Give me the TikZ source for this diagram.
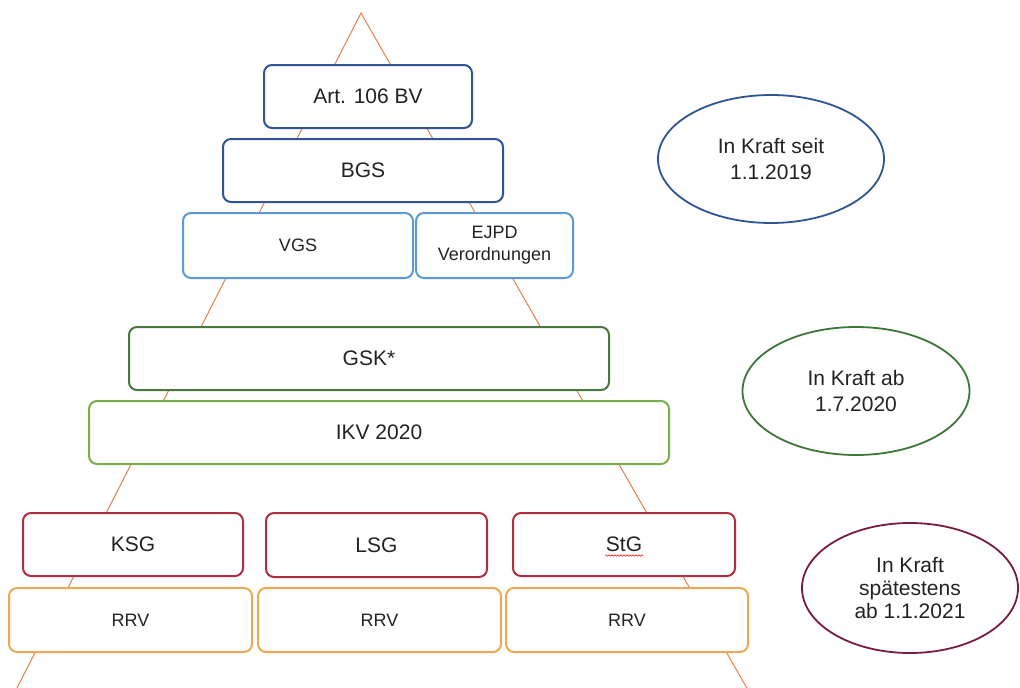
\documentclass[tikz,border=0pt]{standalone}
\usepackage{fontspec}
\setmainfont{Liberation Sans}
\usetikzlibrary{shapes.geometric,decorations.pathmorphing}

\definecolor{pyramid}{RGB}{232,125,75}
\definecolor{darkblue}{RGB}{47,85,151}
\definecolor{lightblue}{RGB}{91,155,213}
\definecolor{darkgreen}{RGB}{72,120,60}
\definecolor{lightgreen}{RGB}{120,175,75}
\definecolor{lawred}{RGB}{175,45,65}
\definecolor{rrvorange}{RGB}{235,170,80}
\definecolor{ovalgreen}{RGB}{60,120,55}
\definecolor{ovalred}{RGB}{120,30,55}
\definecolor{txt}{RGB}{35,35,35}

\begin{document}
\begin{tikzpicture}[x=1pt,y=-1pt]
\tikzstyle{every node}+=[inner sep=0pt,text=txt]
\tikzstyle{law}=[fill=white,rounded corners=8pt,line width=2pt,align=center,font=\fontsize{21}{25}\selectfont]
\tikzstyle{small}=[font=\fontsize{18}{22}\selectfont]
\tikzstyle{oval}=[ellipse,line width=1.8pt,align=center,font=\fontsize{21}{26}\selectfont]
\useasboundingbox (0,0) rectangle (1020,688);
\fill[white] (0,0) rectangle (1020,688);
% pyramid
\coordinate (apex) at (361,13);
\coordinate (baseL) at (16,690);
\coordinate (baseR) at (748,690);
\draw [pyramid,line width=1pt] (baseL) -- (apex) -- (baseR);
% federal level
\node [law,draw=darkblue,minimum width=208pt,minimum height=63pt] (art) at (368,96.5) {Art. 106 BV};
\node [law,draw=darkblue,minimum width=280pt,minimum height=63pt] (bgs) at (363,170.5) {BGS};
\node [law,small,draw=lightblue,minimum width=230pt,minimum height=65pt] (vgs) at (298,245.5) {VGS};
\node [law,small,draw=lightblue,minimum width=157pt,minimum height=65pt] (ejpd) at (494.5,245.5) {EJPD\\Verordnungen};
% concordat level
\node [law,draw=darkgreen,minimum width=480pt,minimum height=63pt] (gsk) at (369,358.5) {GSK*};
\node [law,draw=lightgreen,minimum width=580pt,minimum height=63pt] (ikv) at (379,432.5) {IKV 2020};
% cantonal level
\node [law,draw=lawred,minimum width=220pt,minimum height=63pt] (ksg) at (133,544.5) {KSG};
\node [law,draw=lawred,minimum width=221pt,minimum height=64pt] (lsg) at (376.5,545) {LSG};
\node [law,draw=lawred,minimum width=222pt,minimum height=63pt] (stg) at (624,544.5) {StG};
\draw [red,line width=0.5pt,decorate,decoration={snake,amplitude=0.7pt,segment length=3pt}]
  ([xshift=-19pt,yshift=-11pt]stg.center) -- ([xshift=19pt,yshift=-11pt]stg.center);
\node [law,small,draw=rrvorange,minimum width=243pt,minimum height=64pt] (rrvK) at (130.5,620) {RRV};
\node [law,small,draw=rrvorange,minimum width=243pt,minimum height=64pt] (rrvL) at (379.5,620) {RRV};
\node [law,small,draw=rrvorange,minimum width=242pt,minimum height=64pt] (rrvS) at (627,620) {RRV};
% dates
\node [oval,draw=darkblue,minimum width=226pt,minimum height=128pt] (seit) at (771,159) {In Kraft seit\\1.1.2019};
\node [oval,draw=ovalgreen,minimum width=227pt,minimum height=128pt] (ab) at (856,391) {In Kraft ab\\1.7.2020};
\node [oval,draw=ovalred,minimum width=216pt,minimum height=130pt,font=\fontsize{21}{23}\selectfont] (spaet) at (910,588) {In Kraft\\spätestens\\ab 1.1.2021};
\end{tikzpicture}
\end{document}
